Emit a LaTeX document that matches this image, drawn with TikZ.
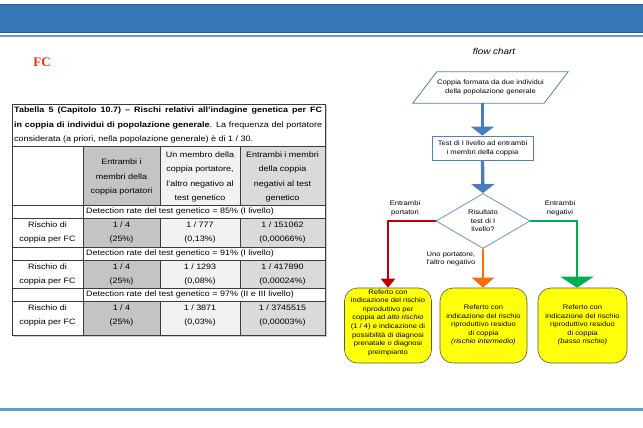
\documentclass[tikz,border=0pt]{standalone}
\usepackage{fontspec}
\setmainfont{Liberation Sans}[FakeStretch=1.15]
\newfontfamily\fcserif{Liberation Serif}
\usetikzlibrary{shapes.geometric,arrows.meta}
\definecolor{barblue}{RGB}{54,119,184}
\definecolor{bardark}{RGB}{40,90,150}
\definecolor{lineblue}{RGB}{100,155,212}
\definecolor{fcred}{RGB}{230,50,15}
\definecolor{gA}{RGB}{196,196,196}
\definecolor{gB}{RGB}{242,242,242}
\definecolor{gC}{RGB}{218,218,218}
\definecolor{tline}{RGB}{60,60,60}
\definecolor{arrblue}{RGB}{74,126,187}
\definecolor{boxblue}{RGB}{79,129,189}
\definecolor{diablue}{RGB}{110,148,196}
\definecolor{cred}{RGB}{192,0,0}
\definecolor{corange}{RGB}{250,110,10}
\definecolor{cgreen}{RGB}{0,176,80}
\definecolor{cyellow}{RGB}{255,255,10}
\definecolor{yborder}{RGB}{90,90,70}
\begin{document}
\begin{tikzpicture}[x=1pt,y=-1pt,
  tab/.style={font=\fontsize{7.8}{14.6}\selectfont, inner sep=0pt, align=center},
  tabl/.style={font=\fontsize{7.8}{9}\selectfont, inner sep=0pt, anchor=west},
  fct/.style={font=\fontsize{6.6}{8.6}\selectfont, inner sep=0pt, align=center},
  refbox/.style={draw=yborder, line width=0.6pt, fill=cyellow, rounded corners=13pt, minimum height=75pt, inner sep=0pt},
  bluearrow/.style={draw=arrblue, line width=3.3pt, -{Triangle[width=23pt,length=9pt]}},
]
\useasboundingbox (0,0) rectangle (643,428);
\fill[white] (0,0) rectangle (643,428);
% banner
\fill[barblue, draw=bardark, line width=0.8pt] (-1,4) rectangle (644,32);
\fill[lineblue] (0,35) rectangle (643,37.5);
\fill[lineblue] (0,408) rectangle (643,410.5);
% FC
\node[font=\fcserif\bfseries\fontsize{13}{13}\selectfont, text=fcred, inner sep=0pt] (fc) at (42,62) {FC};
\node[font=\itshape\fontsize{8.6}{8.6}\selectfont, inner sep=0pt] (fctitle) at (494,51) {flow chart};
% table fills
\fill[gray!40] (14,106) rectangle (327,337);
\fill[white] (12,104) rectangle (325,335);
\fill[gA] (83,146) rectangle (160,205);
\fill[gB] (160,146) rectangle (240,205);
\fill[gC] (240,146) rectangle (325,205);
\foreach \a/\b in {218/247,260/288,301/335}{
  \fill[gA] (83,\a) rectangle (160,\b);
  \fill[gB] (160,\a) rectangle (240,\b);
  \fill[gC] (240,\a) rectangle (325,\b);
}
% table lines
\draw[tline, line width=0.9pt] (12,104) rectangle (325,335);
\foreach \y in {146,205,218,247,260,288,301}{\draw[tline, line width=0.6pt] (12,\y) -- (325,\y);}
\draw[tline, line width=0.6pt] (83,146) -- (83,335);
\foreach \x in {160,240}{
  \draw[tline, line width=0.6pt] (\x,146) -- (\x,205);
  \draw[tline, line width=0.6pt] (\x,218) -- (\x,247);
  \draw[tline, line width=0.6pt] (\x,260) -- (\x,288);
  \draw[tline, line width=0.6pt] (\x,301) -- (\x,335);
}
% table title
\node[tabl] (ti1) at (14,110.5) {\makebox[308pt][s]{\bfseries Tabella 5 (Capitolo 10.7) – Rischi relativi all’indagine genetica per FC}};
\node[tabl] (ti2) at (14,125) {\makebox[308pt][s]{\textbf{in coppia di individui di popolazione generale}. La frequenza del portatore}};
\node[tabl] (ti3) at (14,139.5) {considerata (a priori, nella popolazione generale) è di 1 / 30.};
% header
\node[tab] (h2) at (121.5,177) {Entrambi i\\membri della\\coppia portatori};
\node[tab] (h3) at (200,177) {Un membro della\\coppia portatore,\\l’altro negativo al\\test genetico};
\node[tab] (h4) at (282.5,177) {Entrambi i membri\\della coppia\\negativi al test\\genetico};
% detection rows
\node[tabl] (d1) at (86,211.5) {Detection rate del test genetico = 85\% (I livello)};
\node[tabl] (d2) at (86,253.5) {Detection rate del test genetico = 91\% (I livello)};
\node[tabl] (d3) at (86,294.5) {Detection rate del test genetico = 97\% (II e III livello)};
% data rows
\node[tab] (r1a) at (47.5,232.5) {Rischio di\\coppia per FC};
\node[tab] (r1b) at (121.5,232.5) {1 / 4\\(25\%)};
\node[tab] (r1c) at (200,232.5) {1 / 777\\(0,13\%)};
\node[tab] (r1d) at (282.5,232.5) {1 / 151062\\(0,00066\%)};
\node[tab] (r2a) at (47.5,274.5) {Rischio di\\coppia per FC};
\node[tab] (r2b) at (121.5,274.5) {1 / 4\\(25\%)};
\node[tab] (r2c) at (200,274.5) {1 / 1293\\(0,08\%)};
\node[tab] (r2d) at (282.5,274.5) {1 / 417890\\(0,00024\%)};
\node[tab] (r3a) at (47.5,315.5) {Rischio di\\coppia per FC};
\node[tab] (r3b) at (121.5,315.5) {1 / 4\\(25\%)};
\node[tab] (r3c) at (200,315.5) {1 / 3871\\(0,03\%)};
\node[tab] (r3d) at (282.5,315.5) {1 / 3745515\\(0,00003\%)};
% flowchart
\node[fct, minimum width=131pt, minimum height=31pt] (para) at (490.5,87.5) {Coppia formata da due individui\\della popolazione generale};
\draw[boxblue, line width=0.8pt] ([xshift=-12pt]para.south west) -- ([xshift=12pt]para.north west) -- ([xshift=12pt]para.north east) -- ([xshift=-12pt]para.south east) -- cycle;
\node[fct, draw=boxblue, line width=0.8pt, fill=white, minimum width=101pt, minimum height=24pt] (test) at (482.5,148) {Test di I livello ad entrambi\\i membri della coppia};
\node[diamond, draw=diablue, line width=0.8pt, fill=white, minimum width=94pt, minimum height=55pt, inner sep=0pt] (dia) at (483,221) {};
\node[fct] (diatext) at (dia.center) {Risultato\\test di I\\livello?};
\node[refbox, minimum width=87pt] (ref1) at (388,325.5) {};
\node[fct] (ref1t) at (388,322.5) {Referto con\\indicazione del rischio\\riproduttivo per\\coppia ad \textit{alto rischio}\\(1 / 4) e indicazione di\\possibilità di diagnosi\\prenatale o diagnosi\\preimpianto};
\node[refbox, minimum width=87pt] (ref2) at (483.5,325.5) {};
\node[fct] (ref2t) at (483.5,325) {Referto con\\indicazione del rischio\\riproduttivo residuo\\di coppia\\\textit{(rischio intermedio)}};
\node[refbox, minimum width=89pt] (ref3) at (582.5,325.5) {};
\node[fct] (ref3t) at (582.5,325) {Referto con\\indicazione del rischio\\riproduttivo residuo\\di coppia\\\textit{(basso rischio)}};
% connectors
\draw[bluearrow] (test.north |- para.south) -- (test.north);
\draw[bluearrow] (test.south) -- (dia.north);
\draw[cred, line width=2pt, -{Triangle[width=14pt,length=9pt]}] (dia.west) -| (ref1.north);
\draw[corange, line width=2pt, -{Triangle[width=22pt,length=10pt]}] (dia.south) -- (dia.south |- ref2.north);
\draw[cgreen, line width=2pt, -{Triangle[width=33pt,length=11pt]}] (dia.east) -| ([xshift=-5.5pt]ref3.north);
% labels
\node[fct] (lab1) at (405,208) {Entrambi\\portatori};
\node[fct] (lab2) at (451,259) {Uno portatore,\\l’altro negativo};
\node[fct] (lab3) at (560,208) {Entrambi\\negativi};
\end{tikzpicture}
\end{document}
